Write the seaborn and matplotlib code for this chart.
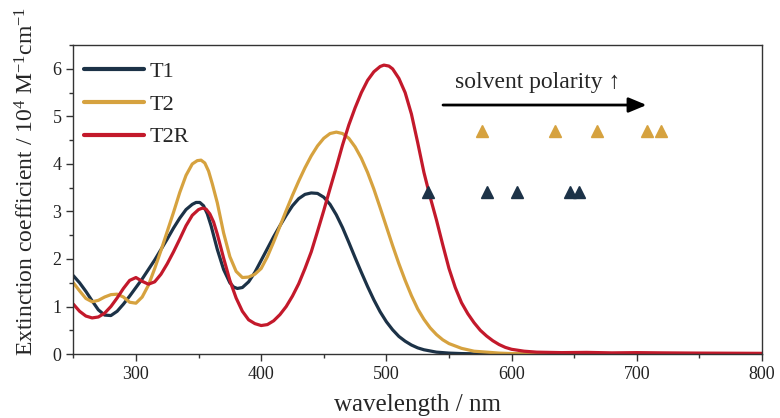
import numpy as np
import pandas as pd
import matplotlib
matplotlib.use('Agg')
import matplotlib.pyplot as plt
import seaborn as sns
from matplotlib.ticker import MultipleLocator

# absorption spectra (wavelength in nm, extinction in 10^4 M^-1 cm^-1)
wl_t1 = [250, 255, 260, 265, 270, 275, 280, 285, 290, 295, 300, 305, 310, 315, 320, 325,
         330, 335, 340, 345, 348, 351, 354, 357, 360, 365, 370, 375, 378, 381, 385, 390, 395, 400, 405,
         410, 415, 420, 425, 430, 435, 440, 445, 450, 455, 460, 465, 470, 475, 480, 485,
         490, 495, 500, 505, 510, 515, 520, 525, 530, 540, 550, 560, 580, 600, 700, 800]
eps_t1 = [1.65, 1.50, 1.32, 1.12, 0.93, 0.82, 0.81, 0.90, 1.05, 1.22, 1.40, 1.58, 1.78, 1.98, 2.20, 2.42,
          2.65, 2.86, 3.04, 3.15, 3.19, 3.19, 3.12, 2.95, 2.70, 2.20, 1.78, 1.50, 1.41, 1.38, 1.40, 1.52, 1.72, 1.97, 2.22,
          2.47, 2.70, 2.92, 3.12, 3.27, 3.36, 3.39, 3.38, 3.30, 3.15, 2.93, 2.66, 2.35, 2.03, 1.72, 1.42,
          1.14, 0.89, 0.68, 0.51, 0.37, 0.27, 0.19, 0.13, 0.09, 0.04, 0.02, 0.01, 0.0, 0.0, 0.0, 0.0]

wl_t2 = [250, 255, 260, 265, 270, 275, 280, 285, 290, 295, 300, 305, 310, 315, 320, 325,
         330, 335, 340, 345, 349, 352, 355, 358, 361, 365, 370, 375, 380, 385, 390, 395, 400, 405,
         410, 415, 420, 425, 430, 435, 440, 445, 450, 455, 460, 465, 470, 475, 480, 485,
         490, 495, 500, 505, 510, 515, 520, 525, 530, 535, 540, 545, 550, 560, 570, 580,
         590, 600, 620, 700, 800]
eps_t2 = [1.50, 1.33, 1.17, 1.10, 1.13, 1.20, 1.25, 1.26, 1.20, 1.09, 1.07, 1.20, 1.45, 1.80, 2.18, 2.58,
          2.98, 3.40, 3.76, 4.00, 4.07, 4.08, 4.02, 3.85, 3.58, 3.18, 2.55, 2.05, 1.74, 1.61, 1.62, 1.68, 1.80, 2.05,
          2.36, 2.69, 3.02, 3.34, 3.64, 3.92, 4.17, 4.38, 4.54, 4.64, 4.67, 4.64, 4.54, 4.36, 4.12, 3.82,
          3.47, 3.08, 2.68, 2.28, 1.90, 1.55, 1.23, 0.95, 0.73, 0.55, 0.41, 0.30, 0.22, 0.12, 0.06, 0.04,
          0.02, 0.01, 0.0, 0.0, 0.0]

wl_t2r = [250, 255, 260, 265, 270, 275, 280, 285, 290, 295, 300, 305, 310, 315, 320, 325,
          330, 335, 340, 345, 350, 353, 356, 359, 362, 365, 370, 375, 380, 385, 390, 395, 400, 405,
          410, 415, 420, 425, 430, 435, 440, 445, 450, 455, 460, 465, 470, 475, 480, 485,
          490, 495, 498, 502, 505, 510, 515, 520, 525, 530, 535, 540, 545, 550, 555, 560, 565,
          570, 575, 580, 585, 590, 595, 600, 610, 620, 640, 660, 680, 700, 720, 750, 800]
eps_t2r = [1.05, 0.90, 0.80, 0.76, 0.78, 0.86, 1.00, 1.18, 1.38, 1.55, 1.61, 1.53, 1.47, 1.52, 1.68, 1.90,
           2.15, 2.42, 2.70, 2.92, 3.04, 3.07, 3.05, 2.95, 2.78, 2.52, 2.02, 1.55, 1.18, 0.90, 0.72, 0.64, 0.60, 0.62,
           0.70, 0.83, 1.00, 1.22, 1.48, 1.80, 2.15, 2.58, 3.02, 3.48, 3.93, 4.40, 4.82, 5.18, 5.50, 5.76,
           5.94, 6.05, 6.08, 6.06, 6.00, 5.80, 5.50, 5.05, 4.45, 3.82, 3.30, 2.82, 2.30, 1.80, 1.40, 1.08, 0.85,
           0.66, 0.50, 0.38, 0.28, 0.20, 0.14, 0.10, 0.06, 0.04, 0.03, 0.035, 0.025, 0.03, 0.025, 0.02, 0.015]

# solvatochromic markers
tri_t2_x = [576, 635, 668, 708, 719]
tri_t2_y = [4.70, 4.70, 4.70, 4.70, 4.70]
tri_t1_x = [533, 580, 604, 647, 654]
tri_t1_y = [3.40, 3.40, 3.40, 3.40, 3.40]

labels = ['T1', 'T2', 'T2R']
colors = ['#1c3247', '#d6a23f', '#c3192b']

df = pd.concat([
    pd.DataFrame({'wavelength': wl_t1, 'eps': eps_t1, 'dye': 'T1'}),
    pd.DataFrame({'wavelength': wl_t2, 'eps': eps_t2, 'dye': 'T2'}),
    pd.DataFrame({'wavelength': wl_t2r, 'eps': eps_t2r, 'dye': 'T2R'}),
])

sns.set_style('ticks')
plt.rcParams['font.family'] = ['Liberation Serif', 'DejaVu Serif']
plt.rcParams['mathtext.fontset'] = 'custom'
plt.rcParams['mathtext.rm'] = 'Liberation Serif'
plt.rcParams['mathtext.it'] = 'Liberation Serif:italic'

fig, ax = plt.subplots(figsize=(7.8, 4.18), dpi=100)
fig.subplots_adjust(left=0.094, right=0.977, bottom=0.153, top=0.892)

sns.lineplot(data=df, x='wavelength', y='eps', hue='dye', hue_order=labels,
             palette=colors, linewidth=2.3, ax=ax)

ax.plot(tri_t2_x, tri_t2_y, '^', color=colors[1], markersize=8.5, linestyle='none')
ax.plot(tri_t1_x, tri_t1_y, '^', color=colors[0], markersize=8.5, linestyle='none')

ax.annotate('', xy=(710, 5.24), xytext=(543, 5.24),
            arrowprops=dict(arrowstyle='-|>,head_length=0.6,head_width=0.25', color='black',
                            lw=2, mutation_scale=18))
ax.text(555, 5.72, 'solvent polarity \u2191', fontsize=17, va='center', ha='left')

ax.set_xlim(250, 800)
ax.set_ylim(0, 6.5)
ax.xaxis.set_major_locator(MultipleLocator(100))
ax.xaxis.set_minor_locator(MultipleLocator(50))
ax.yaxis.set_major_locator(MultipleLocator(1))
ax.yaxis.set_minor_locator(MultipleLocator(0.5))
ax.tick_params(which='major', direction='out', length=5, width=1, color='#333333',
               labelsize=13, labelcolor='#222222')
ax.tick_params(which='minor', direction='out', length=3, width=1, color='#333333')
for s in ax.spines.values():
    s.set_color('#333333')
    s.set_linewidth(1)

ax.set_xlabel('wavelength / nm', fontsize=18, labelpad=8)
ax.set_ylabel(r'Extinction coefficient / 10$^{4}$ M$^{-1}$cm$^{-1}$', fontsize=17)
ax.yaxis.set_label_coords(-0.05, 0.56)

ax.legend(frameon=False, loc='upper left', bbox_to_anchor=(0.0, 0.984), fontsize=16,
          handlelength=2.7, handletextpad=0.25, labelspacing=0.55, borderaxespad=0.1)
for h in ax.get_legend().get_lines():
    h.set_linewidth(3)

fig.savefig('out.png', dpi=100)
